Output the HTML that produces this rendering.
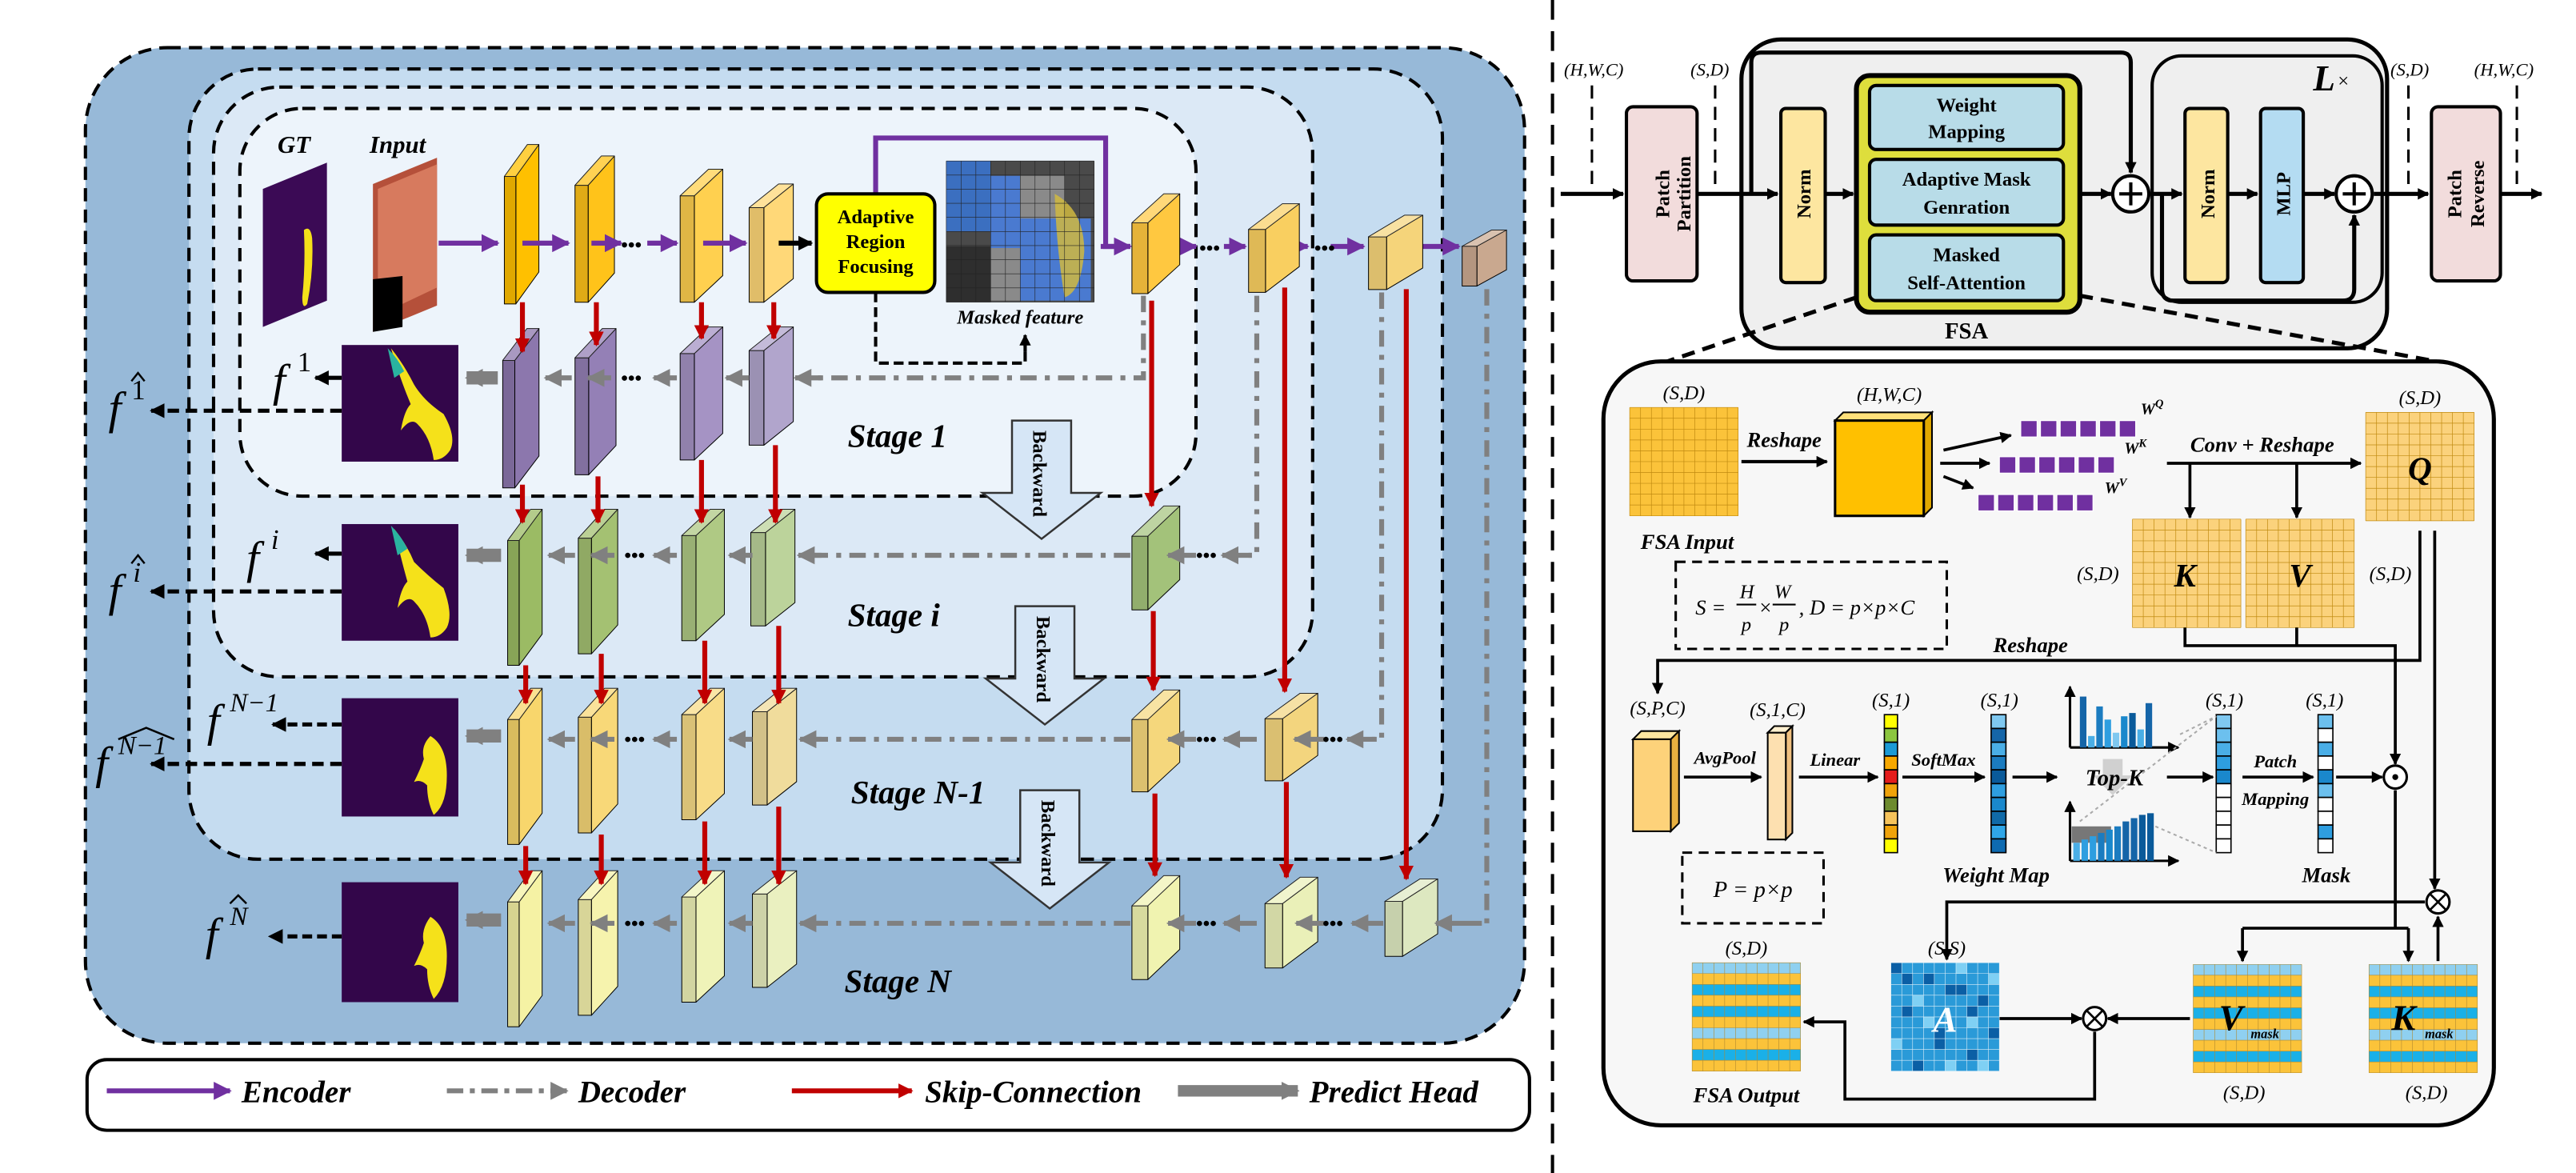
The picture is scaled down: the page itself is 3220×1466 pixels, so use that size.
<!DOCTYPE html>
<html><head><meta charset="utf-8"><style>
html,body{margin:0;padding:0;background:#fff}
svg{display:block}
text{font-family:"Liberation Serif",serif}
.bi{font-weight:bold;font-style:italic}
.b{font-weight:bold}
.it{font-style:italic}
</style></head><body>
<svg width="3220" height="1466" viewBox="0 0 1568 714" preserveAspectRatio="none" xmlns="http://www.w3.org/2000/svg" font-family="Liberation Serif, serif">
<defs>
<g id="slab" stroke="#000" stroke-width="1" stroke-linejoin="round">
<polygon points="0,20 16,0 24,0 8,20" vector-effect="non-scaling-stroke"/>
<polygon points="8,20 24,0 24,80 8,100" vector-effect="non-scaling-stroke"/>
<rect x="0" y="20" width="8" height="80" vector-effect="non-scaling-stroke"/>
<polygon points="0,20 16,0 24,0 8,20" fill="#fff" fill-opacity="0.25" stroke="none"/>
<rect x="0" y="20" width="8" height="80" fill="#000" fill-opacity="0.12" stroke="none"/>
</g>
<g id="cube" stroke="#000" stroke-width="1" stroke-linejoin="round">
<polygon points="0,18 20,0 30,0 10,18" vector-effect="non-scaling-stroke"/>
<polygon points="10,18 30,0 30,44 10,62" vector-effect="non-scaling-stroke"/>
<rect x="0" y="18" width="10" height="44" vector-effect="non-scaling-stroke"/>
<polygon points="0,18 20,0 30,0 10,18" fill="#fff" fill-opacity="0.3" stroke="none"/>
<rect x="0" y="18" width="10" height="44" fill="#000" fill-opacity="0.1" stroke="none"/>
</g>
<path id="g10" fill="none" vector-effect="non-scaling-stroke" d="M0,0V66M6.6,0V66M13.2,0V66M19.8,0V66M26.4,0V66M33,0V66M39.6,0V66M46.2,0V66M52.8,0V66M59.4,0V66M66,0V66M0,0H66M0,6.6H66M0,13.2H66M0,19.8H66M0,26.4H66M0,33H66M0,39.6H66M0,46.2H66M0,52.8H66M0,59.4H66M0,66H66"/>
<marker id="ab" viewBox="0 0 10 10" refX="9" refY="5" markerWidth="7" markerHeight="7" orient="auto" markerUnits="userSpaceOnUse"><path d="M0,0L10,5L0,10z" fill="#000"/></marker>
<marker id="ab2" viewBox="0 0 10 10" refX="9" refY="5" markerWidth="9" markerHeight="9" orient="auto" markerUnits="userSpaceOnUse"><path d="M0,0L10,5L0,10z" fill="#000"/></marker>
<marker id="ar" viewBox="0 0 10 10" refX="9" refY="5" markerWidth="9" markerHeight="9" orient="auto" markerUnits="userSpaceOnUse"><path d="M0,0L10,5L0,10z" fill="#c00000"/></marker>
<marker id="ap" viewBox="0 0 10 10" refX="9" refY="5" markerWidth="11" markerHeight="11" orient="auto" markerUnits="userSpaceOnUse"><path d="M0,0L10,5L0,10z" fill="#7030a0"/></marker>
<marker id="ag" viewBox="0 0 10 10" refX="9" refY="5" markerWidth="11" markerHeight="11" orient="auto" markerUnits="userSpaceOnUse"><path d="M0,0L10,5L0,10z" fill="#808080"/></marker>
</defs>

<!-- LEFT PANEL layered boxes -->
<rect x="52" y="29" width="876" height="606" rx="50" fill="#97b9d8" stroke="#000" stroke-width="2" stroke-dasharray="8,5"/>
<rect x="115" y="42" width="763" height="481" rx="42" fill="#c5dcf0" stroke="#000" stroke-width="2" stroke-dasharray="8,5"/>
<rect x="130" y="53" width="669" height="359" rx="40" fill="#dce9f6" stroke="#000" stroke-width="2" stroke-dasharray="8,5"/>
<rect x="146" y="66" width="582" height="236" rx="38" fill="#edf4fb" stroke="#000" stroke-width="2" stroke-dasharray="8,5"/>

<line x1="945" y1="0" x2="945" y2="714" stroke="#000" stroke-width="2" stroke-dasharray="12,7"/>

<!-- Legend -->
<rect x="53" y="645" width="878" height="43" rx="12" fill="#fff" stroke="#000" stroke-width="2"/>
<line x1="65" y1="664" x2="140" y2="664" stroke="#7030a0" stroke-width="3" marker-end="url(#ap)"/>
<text x="147" y="671" class="bi" font-size="19">Encoder</text>
<line x1="272" y1="664" x2="345" y2="664" stroke="#808080" stroke-width="3" stroke-dasharray="10,4,3,4" marker-end="url(#ag)"/>
<text x="352" y="671" class="bi" font-size="19">Decoder</text>
<line x1="482" y1="664" x2="555" y2="664" stroke="#c00000" stroke-width="3" marker-end="url(#ar)"/>
<text x="563" y="671" class="bi" font-size="19">Skip-Connection</text>
<line x1="717" y1="664" x2="790" y2="664" stroke="#808080" stroke-width="7" marker-end="url(#ag)"/>
<text x="797" y="671" class="bi" font-size="19">Predict Head</text>

<!-- GT / Input -->
<text x="169" y="93" class="bi" font-size="15">GT</text>
<text x="225" y="93" class="bi" font-size="15">Input</text>
<polygon points="160,115 199,99 199,183 160,199" fill="#3b0a55"/>
<path d="M185,140 q4,-3 5,5 q1,20 -3,40 q-3,4 -3,-4 q2,-20 1,-41z" fill="#f5e11a"/>
<polygon points="227,112 266,96 266,186 227,202" fill="#b5503a"/>
<path d="M230,115 L266,100 L266,175 L245,185 L245,168 L230,170z" fill="#d77a5e"/>
<polygon points="227,170 245,168 245,199 227,202" fill="#000"/>

<!-- Stage 1 encoder blocks -->
<use href="#slab" transform="translate(307,88) scale(0.875,0.97)" fill="#ffc000"/>
<use href="#slab" transform="translate(350,95) scale(1,0.89)" fill="#ffc31a"/>
<use href="#slab" transform="translate(414,103) scale(1.08,0.81)" fill="#ffd04f"/>
<use href="#slab" transform="translate(456,112) scale(1.12,0.72)" fill="#ffd878"/>
<g stroke="#7030a0" stroke-width="3">
<line x1="267" y1="148" x2="303" y2="148" marker-end="url(#ap)"/>
<line x1="318" y1="148" x2="346" y2="148" marker-end="url(#ap)"/>
<line x1="360" y1="148" x2="378" y2="148" marker-end="url(#ap)"/>
<line x1="394" y1="148" x2="412" y2="148" marker-end="url(#ap)"/>
<line x1="428" y1="148" x2="454" y2="148" marker-end="url(#ap)"/>
<line x1="670" y1="150" x2="688" y2="150" marker-end="url(#ap)"/>
<line x1="705" y1="150" x2="728" y2="150" marker-end="url(#ap)"/>
<line x1="745" y1="150" x2="758" y2="150" marker-end="url(#ap)"/>
<line x1="778" y1="150" x2="796" y2="150" marker-end="url(#ap)"/>
<line x1="810" y1="150" x2="830" y2="150" marker-end="url(#ap)"/>
<line x1="862" y1="150" x2="888" y2="150" marker-end="url(#ap)"/>
<polyline points="533,118 533,84 673,84 673,150 688,150" fill="none"/>
</g>
<line x1="474" y1="148" x2="494" y2="148" stroke="#000" stroke-width="3" marker-end="url(#ab2)"/>
<g font-size="12" font-weight="bold" fill="#000">
<text x="378" y="153">•••</text>
<text x="730" y="155">•••</text>
<text x="800" y="155">•••</text>
</g>

<!-- ARF box + masked feature -->
<rect x="497" y="118" width="72" height="60" rx="7" fill="#ffff00" stroke="#000" stroke-width="2"/>
<text x="533" y="136" class="b" font-size="12" text-anchor="middle">Adaptive</text>
<text x="533" y="151" class="b" font-size="12" text-anchor="middle">Region</text>
<text x="533" y="166" class="b" font-size="12" text-anchor="middle">Focusing</text>
<polyline points="533,178 533,221 624,221 624,207" fill="none" stroke="#000" stroke-width="2" stroke-dasharray="6,3"/>
<line x1="624" y1="214" x2="624" y2="204" stroke="#000" stroke-width="2" marker-end="url(#ab)"/>
<rect x="576" y="98" width="90" height="86" fill="#4a4a4a"/>
<rect x="576" y="98" width="27" height="43" fill="#3b6fc0"/>
<rect x="603" y="107" width="18" height="44" fill="#4a7ad0"/>
<rect x="621" y="107" width="27" height="26" fill="#8a8a8a"/>
<rect x="621" y="133" width="43" height="50" fill="#4a7ad0"/>
<rect x="603" y="151" width="18" height="32" fill="#8a8a8a"/>
<rect x="576" y="150" width="27" height="34" fill="#2e2e2e"/>
<path d="M642,118 q18,10 18,35 q-2,25 -12,28 q-5,-30 -6,-63z" fill="#d0b840" fill-opacity="0.85"/>
<use href="#g10" transform="translate(576,98) scale(1.364,1.3)" stroke="#222" stroke-width="0.6"/>
<text x="621" y="197" class="bi" font-size="12" text-anchor="middle">Masked feature</text>

<use href="#cube" transform="translate(689,118) scale(0.97,0.98)" fill="#ffc840"/>
<use href="#cube" transform="translate(760,124) scale(1.03,0.87)" fill="#f9cf60"/>
<use href="#cube" transform="translate(833,131) scale(1.1,0.73)" fill="#f5d47a"/>
<use href="#cube" transform="translate(890,140) scale(0.9,0.55)" fill="#c9a88f"/>

<use href="#slab" transform="translate(306,200) scale(0.92,0.97)" fill="#8c77ad"/>
<use href="#slab" transform="translate(350,200) scale(1.04,0.89)" fill="#9480b6"/>
<use href="#slab" transform="translate(414,199) scale(1.08,0.81)" fill="#a593c4"/>
<use href="#slab" transform="translate(456,199) scale(1.12,0.72)" fill="#b1a5cc"/>
<use href="#slab" transform="translate(309,310) scale(0.875,0.95)" fill="#9bbb64"/>
<use href="#slab" transform="translate(352,310) scale(1,0.88)" fill="#a4c172"/>
<use href="#slab" transform="translate(415,310) scale(1.08,0.8)" fill="#afc984"/>
<use href="#slab" transform="translate(457,310) scale(1.12,0.71)" fill="#bcd39b"/>
<use href="#cube" transform="translate(689,308) scale(0.97,1.02)" fill="#a3c27a"/>
<use href="#slab" transform="translate(309,419) scale(0.875,0.95)" fill="#f8d66c"/>
<use href="#slab" transform="translate(352,419) scale(1,0.88)" fill="#f8d878"/>
<use href="#slab" transform="translate(415,419) scale(1.08,0.8)" fill="#f8dc88"/>
<use href="#slab" transform="translate(458,419) scale(1.12,0.71)" fill="#f0dc9c"/>
<use href="#cube" transform="translate(689,420) scale(0.97,1)" fill="#f5d77c"/>
<use href="#cube" transform="translate(770,422) scale(1.07,0.86)" fill="#f3d57e"/>
<use href="#slab" transform="translate(309,530) scale(0.875,0.95)" fill="#f5f2a4"/>
<use href="#slab" transform="translate(352,530) scale(1,0.88)" fill="#f6f3ad"/>
<use href="#slab" transform="translate(415,530) scale(1.08,0.8)" fill="#eff3b8"/>
<use href="#slab" transform="translate(458,530) scale(1.12,0.71)" fill="#eaf0c0"/>
<use href="#cube" transform="translate(689,533) scale(0.97,1.02)" fill="#f0f3b0"/>
<use href="#cube" transform="translate(770,534) scale(1.07,0.89)" fill="#eaf0b8"/>
<use href="#cube" transform="translate(843,535) scale(1.07,0.76)" fill="#dde8c0"/>

<g stroke="#c00000" stroke-width="3" fill="none">
<line x1="318" y1="184" x2="318" y2="214" marker-end="url(#ar)"/>
<line x1="363" y1="184" x2="363" y2="210" marker-end="url(#ar)"/>
<line x1="427" y1="184" x2="427" y2="206" marker-end="url(#ar)"/>
<line x1="471" y1="184" x2="471" y2="206" marker-end="url(#ar)"/>
<line x1="318" y1="295" x2="318" y2="318" marker-end="url(#ar)"/>
<line x1="364" y1="290" x2="364" y2="318" marker-end="url(#ar)"/>
<line x1="427" y1="280" x2="427" y2="318" marker-end="url(#ar)"/>
<line x1="472" y1="271" x2="472" y2="318" marker-end="url(#ar)"/>
<line x1="320" y1="405" x2="320" y2="428" marker-end="url(#ar)"/>
<line x1="366" y1="398" x2="366" y2="428" marker-end="url(#ar)"/>
<line x1="429" y1="390" x2="429" y2="428" marker-end="url(#ar)"/>
<line x1="474" y1="381" x2="474" y2="428" marker-end="url(#ar)"/>
<line x1="320" y1="515" x2="320" y2="538" marker-end="url(#ar)"/>
<line x1="366" y1="508" x2="366" y2="538" marker-end="url(#ar)"/>
<line x1="429" y1="500" x2="429" y2="538" marker-end="url(#ar)"/>
<line x1="474" y1="491" x2="474" y2="538" marker-end="url(#ar)"/>
<line x1="701" y1="183" x2="701" y2="308" marker-end="url(#ar)"/>
<line x1="702" y1="372" x2="702" y2="420" marker-end="url(#ar)"/>
<line x1="703" y1="483" x2="703" y2="533" marker-end="url(#ar)"/>
<line x1="782" y1="175" x2="782" y2="421" marker-end="url(#ar)"/>
<line x1="783" y1="476" x2="783" y2="534" marker-end="url(#ar)"/>
<line x1="856" y1="176" x2="856" y2="535" marker-end="url(#ar)"/>
</g>

<g stroke="#808080" stroke-width="3" fill="none" stroke-dasharray="10,5,3,5">
<polyline points="696,180 696,230 486,230"/>
<polyline points="765,180 765,338 760,338"/>
<line x1="688" y1="338" x2="488" y2="338"/>
<polyline points="841,178 841,450 835,450"/>
<line x1="688" y1="450" x2="488" y2="450"/>
<polyline points="905,176 905,562 900,562"/>
<line x1="688" y1="562" x2="488" y2="562"/>
</g>
<g stroke="#808080" stroke-width="3" fill="none">
<line x1="500" y1="230" x2="484" y2="230" marker-end="url(#ag)"/>
<line x1="456" y1="230" x2="442" y2="230" marker-end="url(#ag)"/>
<line x1="412" y1="230" x2="398" y2="230" marker-end="url(#ag)"/>
<line x1="372" y1="230" x2="358" y2="230" marker-end="url(#ag)"/>
<line x1="348" y1="230" x2="332" y2="230" marker-end="url(#ag)"/>
<line x1="500" y1="338" x2="486" y2="338" marker-end="url(#ag)"/>
<line x1="458" y1="338" x2="444" y2="338" marker-end="url(#ag)"/>
<line x1="412" y1="338" x2="398" y2="338" marker-end="url(#ag)"/>
<line x1="374" y1="338" x2="360" y2="338" marker-end="url(#ag)"/>
<line x1="350" y1="338" x2="334" y2="338" marker-end="url(#ag)"/>
<line x1="500" y1="450" x2="487" y2="450" marker-end="url(#ag)"/>
<line x1="458" y1="450" x2="444" y2="450" marker-end="url(#ag)"/>
<line x1="412" y1="450" x2="398" y2="450" marker-end="url(#ag)"/>
<line x1="374" y1="450" x2="360" y2="450" marker-end="url(#ag)"/>
<line x1="350" y1="450" x2="334" y2="450" marker-end="url(#ag)"/>
<line x1="500" y1="562" x2="487" y2="562" marker-end="url(#ag)"/>
<line x1="458" y1="562" x2="444" y2="562" marker-end="url(#ag)"/>
<line x1="412" y1="562" x2="398" y2="562" marker-end="url(#ag)"/>
<line x1="374" y1="562" x2="360" y2="562" marker-end="url(#ag)"/>
<line x1="350" y1="562" x2="334" y2="562" marker-end="url(#ag)"/>
<line x1="762" y1="338" x2="744" y2="338" marker-end="url(#ag)"/>
<line x1="728" y1="338" x2="711" y2="338" marker-end="url(#ag)"/>
<line x1="838" y1="450" x2="820" y2="450" marker-end="url(#ag)"/>
<line x1="806" y1="450" x2="788" y2="450" marker-end="url(#ag)"/>
<line x1="765" y1="450" x2="745" y2="450" marker-end="url(#ag)"/>
<line x1="728" y1="450" x2="711" y2="450" marker-end="url(#ag)"/>
<line x1="902" y1="562" x2="874" y2="562" marker-end="url(#ag)"/>
<line x1="842" y1="562" x2="823" y2="562" marker-end="url(#ag)"/>
<line x1="806" y1="562" x2="789" y2="562" marker-end="url(#ag)"/>
<line x1="765" y1="562" x2="745" y2="562" marker-end="url(#ag)"/>
<line x1="728" y1="562" x2="711" y2="562" marker-end="url(#ag)"/>
</g>
<g stroke="#808080" stroke-width="8">
<line x1="303" y1="230" x2="284" y2="230" marker-end="url(#ag)"/>
<line x1="305" y1="338" x2="284" y2="338" marker-end="url(#ag)"/>
<line x1="305" y1="448" x2="284" y2="448" marker-end="url(#ag)"/>
<line x1="305" y1="560" x2="284" y2="560" marker-end="url(#ag)"/>
</g>
<g font-size="12" font-weight="bold" fill="#000">
<text x="378" y="234">•••</text><text x="380" y="342">•••</text><text x="380" y="454">•••</text><text x="380" y="566">•••</text>
<text x="728" y="342">•••</text><text x="728" y="454">•••</text><text x="805" y="454">•••</text>
<text x="728" y="566">•••</text><text x="805" y="566">•••</text>
</g>

<g fill="#d6e6f6" stroke="#333" stroke-width="1.2">
<polygon points="616,256 652,256 652,300 670,300 634,328 598,300 616,300"/>
<polygon points="618,369 654,369 654,413 672,413 636,441 600,413 618,413"/>
<polygon points="621,481 657,481 657,525 675,525 639,553 603,525 621,525"/>
</g>
<g class="b" font-size="12">
<text transform="translate(629,262) rotate(90)">Backward</text>
<text transform="translate(631,375) rotate(90)">Backward</text>
<text transform="translate(634,487) rotate(90)">Backward</text>
</g>

<g class="bi" font-size="20">
<text x="516" y="272">Stage 1</text>
<text x="516" y="381">Stage i</text>
<text x="518" y="489">Stage N-1</text>
<text x="514" y="604">Stage N</text>
</g>

<g>
<rect x="208" y="210" width="71" height="71" fill="#33064a"/>
<path d="M238,212 q8,10 14,22 q6,10 18,18 q8,14 4,22 q-4,6 -10,6 q-2,-14 -10,-22 q-4,-4 -10,4 q2,-12 6,-16 q-6,-14 -12,-34z" fill="#f5e11a"/>
<path d="M236,212 q6,6 10,14 l-6,4z" fill="#2ab3a0"/>
<rect x="208" y="319" width="71" height="71" fill="#33064a"/>
<path d="M240,322 q8,10 12,20 q8,8 18,16 q6,16 2,24 q-4,6 -10,6 q-2,-14 -10,-22 q-4,-4 -10,4 q2,-12 6,-16 q-4,-14 -8,-32z" fill="#f5e11a"/>
<path d="M238,320 q6,6 10,14 l-6,4z" fill="#2ab3a0"/>
<rect x="208" y="425" width="71" height="72" fill="#33064a"/>
<path d="M262,448 q10,6 10,24 q0,18 -8,24 q-4,-8 -4,-18 q-4,-4 -8,-2 q4,-8 6,-14 q-2,-8 4,-14z" fill="#f5e11a"/>
<rect x="208" y="537" width="71" height="73" fill="#33064a"/>
<path d="M262,558 q10,6 10,24 q0,18 -8,26 q-4,-8 -4,-18 q-4,-4 -8,-2 q4,-8 6,-14 q-2,-8 4,-16z" fill="#f5e11a"/>
</g>
<g stroke="#000" stroke-width="2.5" fill="none">
<line x1="208" y1="230" x2="192" y2="230" marker-end="url(#ab2)"/>
<line x1="208" y1="337" x2="192" y2="337" marker-end="url(#ab2)"/>
<line x1="208" y1="441" x2="166" y2="441" stroke-dasharray="6,3" marker-end="url(#ab2)"/>
<line x1="208" y1="570" x2="164" y2="570" stroke-dasharray="6,3" marker-end="url(#ab2)"/>
<line x1="208" y1="250" x2="92" y2="250" stroke-dasharray="7,4" marker-end="url(#ab2)"/>
<line x1="208" y1="360" x2="92" y2="360" stroke-dasharray="7,4" marker-end="url(#ab2)"/>
<line x1="208" y1="465" x2="92" y2="465" stroke-dasharray="7,4" marker-end="url(#ab2)"/>
</g>
<g class="it" font-size="28">
<text x="166" y="241">f</text><text x="181" y="226" font-size="17" font-style="normal">1</text>
<text x="66" y="258">f</text><text x="80" y="243" font-size="17" font-style="normal">1</text>
<text x="150" y="349">f</text><text x="165" y="334" font-size="17">i</text>
<text x="66" y="369">f</text><text x="81" y="354" font-size="17">i</text>
<text x="126" y="448">f</text><text x="140" y="433" font-size="16">N−1</text>
<text x="58" y="474">f</text><text x="72" y="459" font-size="16">N−1</text>
<text x="125" y="578">f</text><text x="140" y="563" font-size="16">N</text>
</g>
<g fill="none" stroke="#000" stroke-width="1.2">
<path d="M80,232 L84,227 L88,232"/>
<path d="M80,343 L84,338 L88,343"/>
<path d="M140,550 L145,545 L150,550"/>
<path d="M72,450 L89,443 L106,450"/>
</g>

<!-- RIGHT TOP -->
<text x="952" y="46" class="it" font-size="11">(H,W,C)</text>
<text x="1029" y="46" class="it" font-size="11">(S,D)</text>
<text x="1455" y="46" class="it" font-size="11">(S,D)</text>
<text x="1506" y="46" class="it" font-size="11">(H,W,C)</text>
<g stroke="#000" stroke-width="1.5" stroke-dasharray="8,5">
<line x1="969" y1="52" x2="969" y2="116"/><line x1="1044" y1="52" x2="1044" y2="116"/>
<line x1="1466" y1="52" x2="1466" y2="116"/><line x1="1532" y1="52" x2="1532" y2="116"/>
</g>
<rect x="1060" y="24" width="393" height="188" rx="24" fill="#efefef" stroke="#000" stroke-width="2.5"/>
<rect x="990" y="65" width="43" height="106" rx="4" fill="#f2dcdc" stroke="#000" stroke-width="2"/>
<text transform="translate(1016,118) rotate(-90)" class="b" font-size="12" text-anchor="middle">Patch</text>
<text transform="translate(1029,118) rotate(-90)" class="b" font-size="12" text-anchor="middle">Partition</text>
<rect x="1480" y="65" width="42" height="106" rx="4" fill="#f2dcdc" stroke="#000" stroke-width="2"/>
<text transform="translate(1498,118) rotate(-90)" class="b" font-size="12" text-anchor="middle">Patch</text>
<text transform="translate(1512,118) rotate(-90)" class="b" font-size="12" text-anchor="middle">Reverse</text>
<rect x="1084" y="66" width="27" height="106" rx="3" fill="#fde6a0" stroke="#000" stroke-width="2"/>
<text transform="translate(1102,118) rotate(-90)" class="b" font-size="12" text-anchor="middle">Norm</text>
<rect x="1310" y="34" width="140" height="150" rx="18" fill="#efefef" stroke="#000" stroke-width="2"/>
<rect x="1330" y="66" width="26" height="106" rx="3" fill="#fde6a0" stroke="#000" stroke-width="2"/>
<text transform="translate(1348,118) rotate(-90)" class="b" font-size="12" text-anchor="middle">Norm</text>
<rect x="1376" y="66" width="26" height="106" rx="3" fill="#b4dcf2" stroke="#000" stroke-width="2"/>
<text transform="translate(1394,118) rotate(-90)" class="b" font-size="12" text-anchor="middle">MLP</text>
<rect x="1130" y="46" width="136" height="144" rx="8" fill="#dede3c" stroke="#000" stroke-width="3"/>
<rect x="1138" y="52" width="118" height="39" rx="4" fill="#b8dce8" stroke="#000" stroke-width="2"/>
<rect x="1138" y="97" width="118" height="40" rx="4" fill="#b8dce8" stroke="#000" stroke-width="2"/>
<rect x="1138" y="143" width="118" height="40" rx="4" fill="#b8dce8" stroke="#000" stroke-width="2"/>
<g class="b" font-size="12" text-anchor="middle">
<text x="1197" y="68">Weight</text><text x="1197" y="84">Mapping</text>
<text x="1197" y="113">Adaptive Mask</text><text x="1197" y="130">Genration</text>
<text x="1197" y="159">Masked</text><text x="1197" y="176">Self-Attention</text>
</g>
<text x="1197" y="206" class="b" font-size="14" text-anchor="middle">FSA</text>
<text x="1408" y="55" class="bi" font-size="22">L</text><text x="1423" y="53" font-size="12">×</text>
<g stroke="#000" stroke-width="2.5" fill="none">
<line x1="950" y1="118" x2="988" y2="118" marker-end="url(#ab)"/>
<line x1="1033" y1="118" x2="1082" y2="118" marker-end="url(#ab)"/>
<line x1="1111" y1="118" x2="1128" y2="118" marker-end="url(#ab)"/>
<line x1="1266" y1="118" x2="1285" y2="118" marker-end="url(#ab)"/>
<line x1="1309" y1="118" x2="1328" y2="118" marker-end="url(#ab)"/>
<line x1="1356" y1="118" x2="1374" y2="118" marker-end="url(#ab)"/>
<line x1="1402" y1="118" x2="1421" y2="118" marker-end="url(#ab)"/>
<line x1="1445" y1="118" x2="1478" y2="118" marker-end="url(#ab)"/>
<line x1="1522" y1="118" x2="1547" y2="118" marker-end="url(#ab)"/>
<path d="M1066,118 L1066,38 Q1066,32 1072,32 L1291,32 Q1297,32 1297,38 L1297,105" marker-end="url(#ab)"/>
<path d="M1316,118 L1316,176 Q1316,183 1323,183 L1426,183 Q1433,183 1433,176 L1433,131" marker-end="url(#ab)"/>
</g>
<g fill="#fff" stroke="#000" stroke-width="2">
<circle cx="1297" cy="118" r="11"/><circle cx="1433" cy="118" r="11"/>
</g>
<g stroke="#000" stroke-width="2"><line x1="1290" y1="118" x2="1304" y2="118"/><line x1="1297" y1="111" x2="1297" y2="125"/><line x1="1426" y1="118" x2="1440" y2="118"/><line x1="1433" y1="111" x2="1433" y2="125"/></g>
<g stroke="#000" stroke-width="2.5" stroke-dasharray="8,5">
<line x1="1130" y1="181" x2="1009" y2="222"/>
<line x1="1266" y1="180" x2="1483" y2="220"/>
</g>

<!-- FSA DETAIL -->
<rect x="976" y="220" width="542" height="465" rx="35" fill="#f7f7f7" stroke="#000" stroke-width="2.5"/>
<g class="it" font-size="12" text-anchor="middle">
<text x="1025" y="243">(S,D)</text>
<text x="1150" y="244">(H,W,C)</text>
<text x="1473" y="246">(S,D)</text>
<text x="1277" y="353">(S,D)</text>
<text x="1455" y="353">(S,D)</text>
<text x="1009" y="435">(S,P,C)</text>
<text x="1082" y="436">(S,1,C)</text>
<text x="1151" y="430">(S,1)</text>
<text x="1217" y="430">(S,1)</text>
<text x="1354" y="430">(S,1)</text>
<text x="1415" y="430">(S,1)</text>
<text x="1063" y="581">(S,D)</text>
<text x="1185" y="581">(S,S)</text>
<text x="1366" y="669">(S,D)</text>
<text x="1477" y="669">(S,D)</text>
</g>
<rect x="992" y="248" width="66" height="66" fill="#fbc33a"/>
<use href="#g10" transform="translate(992,248)" stroke="#c08a10" stroke-width="0.7"/>
<text x="1027" y="334" class="bi" font-size="13" text-anchor="middle">FSA Input</text>
<line x1="1060" y1="281" x2="1112" y2="281" stroke="#000" stroke-width="2" marker-end="url(#ab)"/>
<text x="1086" y="272" class="bi" font-size="13" text-anchor="middle">Reshape</text>
<polygon points="1117,256 1122,251 1176,251 1171,256" fill="#ffe07a" stroke="#000" stroke-width="1"/>
<polygon points="1171,256 1176,251 1176,309 1171,314" fill="#e0a800" stroke="#000" stroke-width="1"/>
<rect x="1117" y="256" width="54" height="58" fill="#ffc000" stroke="#000" stroke-width="1.5"/>
<g stroke="#000" stroke-width="1.8">
<line x1="1183" y1="274" x2="1224" y2="265" marker-end="url(#ab)"/>
<line x1="1181" y1="282" x2="1211" y2="282" marker-end="url(#ab)"/>
<line x1="1183" y1="290" x2="1201" y2="297" marker-end="url(#ab)"/>
</g>
<g fill="#7030a0" stroke="#fff" stroke-width="0.6">
<rect x="1230" y="256" width="10" height="10"/><rect x="1242" y="256" width="10" height="10"/><rect x="1254" y="256" width="10" height="10"/><rect x="1266" y="256" width="10" height="10"/><rect x="1278" y="256" width="10" height="10"/><rect x="1290" y="256" width="10" height="10"/>
<rect x="1217" y="278" width="10" height="10"/><rect x="1229" y="278" width="10" height="10"/><rect x="1241" y="278" width="10" height="10"/><rect x="1253" y="278" width="10" height="10"/><rect x="1265" y="278" width="10" height="10"/><rect x="1277" y="278" width="10" height="10"/>
<rect x="1204" y="301" width="10" height="10"/><rect x="1216" y="301" width="10" height="10"/><rect x="1228" y="301" width="10" height="10"/><rect x="1240" y="301" width="10" height="10"/><rect x="1252" y="301" width="10" height="10"/><rect x="1264" y="301" width="10" height="10"/>
</g>
<g class="bi" font-size="10"><text x="1303" y="252">W<tspan font-size="7" dy="-4">Q</tspan></text><text x="1293" y="276">W<tspan font-size="7" dy="-4">K</tspan></text><text x="1281" y="300">W<tspan font-size="7" dy="-4">V</tspan></text></g>
<text x="1377" y="275" class="bi" font-size="13" text-anchor="middle">Conv + Reshape</text>
<g stroke="#000" stroke-width="1.8" fill="none">
<line x1="1319" y1="282" x2="1437" y2="282" marker-end="url(#ab)"/>
<line x1="1333" y1="282" x2="1333" y2="315" marker-end="url(#ab)"/>
<line x1="1398" y1="282" x2="1398" y2="315" marker-end="url(#ab)"/>
</g>
<rect x="1440" y="251" width="66" height="66" fill="#fbd27c"/>
<use href="#g10" transform="translate(1440,251)" stroke="#c08a10" stroke-width="0.7"/>
<text x="1473" y="292" class="bi" font-size="20" text-anchor="middle">Q</text>
<rect x="1298" y="316" width="66" height="66" fill="#fbd27c"/>
<use href="#g10" transform="translate(1298,316)" stroke="#c08a10" stroke-width="0.7"/>
<rect x="1367" y="316" width="66" height="66" fill="#fbd27c"/>
<use href="#g10" transform="translate(1367,316)" stroke="#c08a10" stroke-width="0.7"/>
<text x="1330" y="357" class="bi" font-size="20" text-anchor="middle">K</text>
<text x="1400" y="357" class="bi" font-size="20" text-anchor="middle">V</text>
<rect x="1020" y="342" width="165" height="53" fill="none" stroke="#000" stroke-width="1.5" stroke-dasharray="6,4"/>
<g class="it" font-size="13">
<text x="1032" y="374">S =</text>
<text x="1059" y="364" font-size="12">H</text><line x1="1057" y1="368" x2="1069" y2="368" stroke="#000"/><text x="1060" y="384" font-size="12">p</text>
<text x="1071" y="374" font-style="normal">×</text>
<text x="1080" y="364" font-size="12">W</text><line x1="1079" y1="368" x2="1093" y2="368" stroke="#000"/><text x="1083" y="384" font-size="12">p</text>
<text x="1095" y="374">, D = p×p×C</text>
</g>
<rect x="1024" y="519" width="86" height="43" fill="none" stroke="#000" stroke-width="1.5" stroke-dasharray="6,4"/>
<text x="1067" y="546" class="it" font-size="14" text-anchor="middle">P = p×p</text>
<text x="1236" y="397" class="bi" font-size="13" text-anchor="middle">Reshape</text>
<g stroke="#000" stroke-width="1.8" fill="none">
<polyline points="1473,323 1473,402 1009,402 1009,422" marker-end="url(#ab)"/>
<line x1="1482" y1="323" x2="1482" y2="541" marker-end="url(#ab)"/>
<polyline points="1330,382 1330,393 1458,393 1458,465" marker-end="url(#ab)"/>
<line x1="1398" y1="382" x2="1398" y2="393"/>
<line x1="1458" y1="481" x2="1458" y2="565"/>
<polyline points="1365,565 1466,565"/>
<line x1="1365" y1="565" x2="1365" y2="585" marker-end="url(#ab)"/>
<line x1="1466" y1="565" x2="1466" y2="585" marker-end="url(#ab)"/>
<polyline points="1476,549 1185,549 1185,584" marker-end="url(#ab)"/>
<line x1="1484" y1="585" x2="1484" y2="558" marker-end="url(#ab)"/>
<line x1="1217" y1="620" x2="1267" y2="620" marker-end="url(#ab)"/>
<line x1="1333" y1="620" x2="1283" y2="620" marker-end="url(#ab)"/>
<polyline points="1275,628 1275,669 1123,669 1123,622 1098,622" marker-end="url(#ab)"/>
<line x1="1025" y1="473" x2="1072" y2="473" marker-end="url(#ab)"/>
<line x1="1095" y1="473" x2="1143" y2="473" marker-end="url(#ab)"/>
<line x1="1158" y1="473" x2="1208" y2="473" marker-end="url(#ab)"/>
<line x1="1225" y1="473" x2="1252" y2="473" marker-end="url(#ab)"/>
<line x1="1319" y1="473" x2="1347" y2="473" marker-end="url(#ab)"/>
<line x1="1365" y1="473" x2="1408" y2="473" marker-end="url(#ab)"/>
<line x1="1422" y1="473" x2="1450" y2="473" marker-end="url(#ab)"/>
</g>
<g class="bi" font-size="11" text-anchor="middle">
<text x="1050" y="465">AvgPool</text><text x="1117" y="466">Linear</text><text x="1183" y="466">SoftMax</text>
<text x="1385" y="467">Patch</text><text x="1385" y="490">Mapping</text>
</g>
<text x="1215" y="537" class="bi" font-size="13" text-anchor="middle">Weight Map</text>
<text x="1416" y="537" class="bi" font-size="13" text-anchor="middle">Mask</text>
<polygon points="994,450 999,445 1022,445 1017,450" fill="#ffe7a0" stroke="#000"/>
<polygon points="1017,450 1022,445 1022,501 1017,506" fill="#e8b040" stroke="#000"/>
<rect x="994" y="450" width="23" height="56" fill="#fdd27a" stroke="#000"/>
<polygon points="1076,446 1080,442 1091,442 1087,446" fill="#fff0d0" stroke="#000"/>
<polygon points="1087,446 1091,442 1091,507 1087,511" fill="#f0c080" stroke="#000"/>
<rect x="1076" y="446" width="11" height="65" fill="#fde0b0" stroke="#000"/>
<g stroke="#000" stroke-width="0.8">
<rect x="1147" y="435" width="8" height="8.4" fill="#ffff00"/><rect x="1147" y="443.4" width="8" height="8.4" fill="#8cc63f"/><rect x="1147" y="451.8" width="8" height="8.4" fill="#1b9ad6"/><rect x="1147" y="460.2" width="8" height="8.4" fill="#f7a800"/><rect x="1147" y="468.6" width="8" height="8.4" fill="#e41c1c"/><rect x="1147" y="477" width="8" height="8.4" fill="#f0a30a"/><rect x="1147" y="485.4" width="8" height="8.4" fill="#6d8b2e"/><rect x="1147" y="493.8" width="8" height="8.4" fill="#f6c35b"/><rect x="1147" y="502.2" width="8" height="8.4" fill="#f0a30a"/><rect x="1147" y="510.6" width="8" height="8.4" fill="#ffff00"/>
<rect x="1212" y="435" width="9" height="8.4" fill="#7fc8f0"/><rect x="1212" y="443.4" width="9" height="8.4" fill="#1565a8"/><rect x="1212" y="451.8" width="9" height="8.4" fill="#4aaee6"/><rect x="1212" y="460.2" width="9" height="8.4" fill="#1b7cc0"/><rect x="1212" y="468.6" width="9" height="8.4" fill="#0a5a9a"/><rect x="1212" y="477" width="9" height="8.4" fill="#2e9ee0"/><rect x="1212" y="485.4" width="9" height="8.4" fill="#1a88cc"/><rect x="1212" y="493.8" width="9" height="8.4" fill="#106aa8"/><rect x="1212" y="502.2" width="9" height="8.4" fill="#2fa6e8"/><rect x="1212" y="510.6" width="9" height="8.4" fill="#0e6ab0"/>
<rect x="1349" y="435" width="9" height="8.4" fill="#7fc8f0"/><rect x="1349" y="443.4" width="9" height="8.4" fill="#6cc0ee"/><rect x="1349" y="451.8" width="9" height="8.4" fill="#4aaee6"/><rect x="1349" y="460.2" width="9" height="8.4" fill="#2e9ee0"/><rect x="1349" y="468.6" width="9" height="8.4" fill="#1a88cc"/><rect x="1349" y="477" width="9" height="8.4" fill="#fff"/><rect x="1349" y="485.4" width="9" height="8.4" fill="#fff"/><rect x="1349" y="493.8" width="9" height="8.4" fill="#fff"/><rect x="1349" y="502.2" width="9" height="8.4" fill="#fff"/><rect x="1349" y="510.6" width="9" height="8.4" fill="#fff"/>
<rect x="1411" y="435" width="9" height="8.4" fill="#6cc0ee"/><rect x="1411" y="443.4" width="9" height="8.4" fill="#fff"/><rect x="1411" y="451.8" width="9" height="8.4" fill="#4aaee6"/><rect x="1411" y="460.2" width="9" height="8.4" fill="#fff"/><rect x="1411" y="468.6" width="9" height="8.4" fill="#1a88cc"/><rect x="1411" y="477" width="9" height="8.4" fill="#6cc0ee"/><rect x="1411" y="485.4" width="9" height="8.4" fill="#fff"/><rect x="1411" y="493.8" width="9" height="8.4" fill="#fff"/><rect x="1411" y="502.2" width="9" height="8.4" fill="#2e9ee0"/><rect x="1411" y="510.6" width="9" height="8.4" fill="#fff"/>
</g>
<g>
<line x1="1260" y1="455" x2="1326" y2="455" stroke="#000" stroke-width="1.5" marker-end="url(#ab)"/>
<line x1="1260" y1="455" x2="1260" y2="418" stroke="#000" stroke-width="1.5" marker-end="url(#ab)"/>
<rect x="1266" y="424" width="4" height="31" fill="#1565a8"/><rect x="1271" y="448" width="4" height="7" fill="#4aaee6"/><rect x="1276" y="430" width="4" height="25" fill="#1b7cc0"/><rect x="1281" y="438" width="4" height="17" fill="#2e9ee0"/><rect x="1286" y="446" width="4" height="9" fill="#7fc8f0"/><rect x="1291" y="436" width="4" height="19" fill="#1a88cc"/><rect x="1296" y="434" width="4" height="21" fill="#0a5a9a"/><rect x="1301" y="444" width="4" height="11" fill="#4aaee6"/><rect x="1306" y="428" width="4" height="27" fill="#1565a8"/>
<line x1="1260" y1="524" x2="1326" y2="524" stroke="#000" stroke-width="1.5" marker-end="url(#ab)"/>
<line x1="1260" y1="524" x2="1260" y2="488" stroke="#000" stroke-width="1.5" marker-end="url(#ab)"/>
<rect x="1261" y="503" width="24" height="10" fill="#777"/>
<rect x="1262" y="513" width="4" height="11" fill="#4aaee6"/><rect x="1267" y="511" width="4" height="13" fill="#2e9ee0"/><rect x="1272" y="509" width="4" height="15" fill="#2e9ee0"/><rect x="1277" y="507" width="4" height="17" fill="#1b7cc0"/><rect x="1282" y="505" width="4" height="19" fill="#1a88cc"/><rect x="1287" y="503" width="4" height="21" fill="#1b7cc0"/><rect x="1292" y="500" width="4" height="24" fill="#1565a8"/><rect x="1297" y="498" width="4" height="26" fill="#1565a8"/><rect x="1302" y="496" width="4" height="28" fill="#0a5a9a"/><rect x="1307" y="495" width="4" height="29" fill="#0a5a9a"/>
<polygon points="1280,462 1292,462 1292,472 1298,472 1286,484 1274,472 1280,472" fill="#d0d0d0"/>
<line x1="1327" y1="447" x2="1349" y2="436" stroke="#aaa" stroke-dasharray="2,2"/>
<line x1="1266" y1="500" x2="1349" y2="436" stroke="#aaa" stroke-dasharray="2,2"/>
<line x1="1312" y1="503" x2="1349" y2="519" stroke="#aaa" stroke-dasharray="2,2"/>
</g>
<text x="1287" y="478" class="bi" font-size="14" text-anchor="middle">Top-K</text>
<g fill="#fff" stroke="#000" stroke-width="1.5">
<circle cx="1458" cy="473" r="7"/><circle cx="1484" cy="549" r="7"/><circle cx="1275" cy="620" r="7"/>
</g>
<circle cx="1458" cy="473" r="1.8" fill="#000"/>
<g stroke="#000" stroke-width="1.3"><line x1="1479" y1="544" x2="1489" y2="554"/><line x1="1489" y1="544" x2="1479" y2="554"/><line x1="1270" y1="615" x2="1280" y2="625"/><line x1="1280" y1="615" x2="1270" y2="625"/></g>
<g id="stripes">
<rect x="1030" y="586" width="66" height="66" fill="#fbc33a"/>
<rect x="1030" y="586" width="66" height="6.6" fill="#8fd0f0"/>
<rect x="1030" y="599.2" width="66" height="6.6" fill="#1ab0e8"/>
<rect x="1030" y="612.4" width="66" height="6.6" fill="#1ab0e8"/>
<rect x="1030" y="625.6" width="66" height="6.6" fill="#8fd0f0"/>
<rect x="1030" y="638.8" width="66" height="6.6" fill="#1ab0e8"/>
<use href="#g10" transform="translate(1030,586)" stroke="#b08a30" stroke-width="0.6"/>
</g>
<use href="#stripes" transform="translate(305,1)"/>
<use href="#stripes" transform="translate(412,1)"/>
<text x="1063" y="671" class="bi" font-size="13" text-anchor="middle">FSA Output</text>
<text x="1358" y="627" class="bi" font-size="22" text-anchor="middle">V</text><text x="1370" y="632" class="bi" font-size="8">mask</text>
<text x="1463" y="627" class="bi" font-size="22" text-anchor="middle">K</text><text x="1476" y="632" class="bi" font-size="8">mask</text>
<rect x="1151" y="586" width="66" height="66" fill="#2a9ad8"/>
<g fill="#0b5fa5">
<rect x="1151" y="586" width="6.6" height="6.6"/><rect x="1170.8" y="592.6" width="6.6" height="6.6"/><rect x="1184" y="599.2" width="13.2" height="6.6"/><rect x="1157.6" y="612.4" width="6.6" height="6.6"/><rect x="1203.8" y="605.8" width="6.6" height="6.6"/><rect x="1177.4" y="625.6" width="6.6" height="13.2"/><rect x="1197.2" y="638.8" width="6.6" height="6.6"/><rect x="1164.2" y="645.4" width="6.6" height="6.6"/><rect x="1210.4" y="625.6" width="6.6" height="6.6"/><rect x="1157.6" y="592.6" width="6.6" height="6.6"/><rect x="1197.2" y="612.4" width="6.6" height="6.6"/>
</g>
<g fill="#7fd0f4">
<rect x="1190.6" y="586" width="6.6" height="6.6"/><rect x="1164.2" y="605.8" width="6.6" height="6.6"/><rect x="1197.2" y="619" width="6.6" height="6.6"/><rect x="1151" y="632.2" width="6.6" height="6.6"/><rect x="1210.4" y="592.6" width="6.6" height="6.6"/><rect x="1184" y="645.4" width="6.6" height="6.6"/><rect x="1170.8" y="619" width="6.6" height="6.6"/><rect x="1203.8" y="645.4" width="6.6" height="6.6"/>
</g>
<use href="#g10" transform="translate(1151,586)" stroke="#dfeff8" stroke-width="0.6"/>
<text x="1184" y="628" class="bi" font-size="22" fill="#fff" text-anchor="middle">A</text>
</svg>
</body></html>
